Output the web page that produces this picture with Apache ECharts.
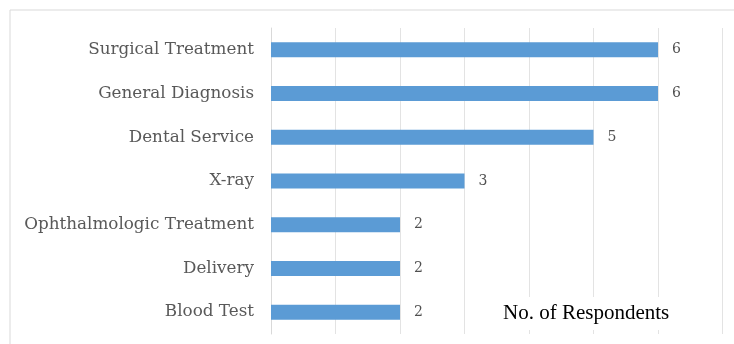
<!DOCTYPE html>
<html>
<head>
<meta charset="utf-8">
<script src="https://cdn.jsdelivr.net/npm/echarts@6/dist/echarts.min.js"></script>
<style>
  html, body { margin: 0; padding: 0; background: #ffffff; }
  #chart { width: 734px; height: 344px; }
</style>
</head>
<body>
<div id="chart"></div>
<script>
// Services and how many respondents named each one
const categories = [
  'Surgical Treatment',
  'General Diagnosis',
  'Dental Service',
  'X-ray',
  'Ophthalmologic Treatment',
  'Delivery',
  'Blood Test'
];
const respondents = [6, 6, 5, 3, 2, 2, 2];
const axisTitle = 'No. of Respondents';

const chart = echarts.init(document.getElementById('chart'), null, { renderer: 'canvas' });

chart.setOption({
  animation: false,
  backgroundColor: '#ffffff',
  grid: { left: 271, right: 11.5, top: 28, bottom: 10, containLabel: false },
  graphic: [
    {
      // outer frame; right and bottom edges run past the canvas
      type: 'rect',
      shape: { x: 10, y: 10, width: 760, height: 380 },
      style: { fill: 'none', stroke: '#d9d9d9', lineWidth: 1 },
      silent: true
    },
    {
      // axis title sits on a white box over the grid lines
      type: 'text',
      left: 495,
      top: 297,
      z: 100,
      style: {
        text: axisTitle,
        font: '21px "Liberation Serif", "Times New Roman", serif',
        fill: '#000000',
        backgroundColor: '#ffffff',
        padding: [6, 8, 6, 8]
      }
    }
  ],
  xAxis: {
    type: 'value',
    min: 0,
    max: 7,
    interval: 1,
    axisLabel: { show: false },
    axisTick: { show: false },
    axisLine: { show: false },
    splitLine: { show: true, lineStyle: { color: '#e3e3e3', width: 1 } }
  },
  yAxis: {
    type: 'category',
    data: categories,
    inverse: true,
    axisTick: { show: false },
    axisLine: { show: true, lineStyle: { color: '#d9d9d9' } },
    axisLabel: {
      margin: 17,
      color: '#595959',
      fontFamily: '"DejaVu Serif", serif',
      fontSize: 16.8
    }
  },
  series: [{
    type: 'bar',
    data: respondents,
    barWidth: 15,
    itemStyle: { color: '#5b9bd5' },
    label: {
      show: true,
      position: 'right',
      distance: 14,
      color: '#505050',
      fontFamily: '"DejaVu Serif", serif',
      fontSize: 14
    }
  }]
});
</script>
</body>
</html>
